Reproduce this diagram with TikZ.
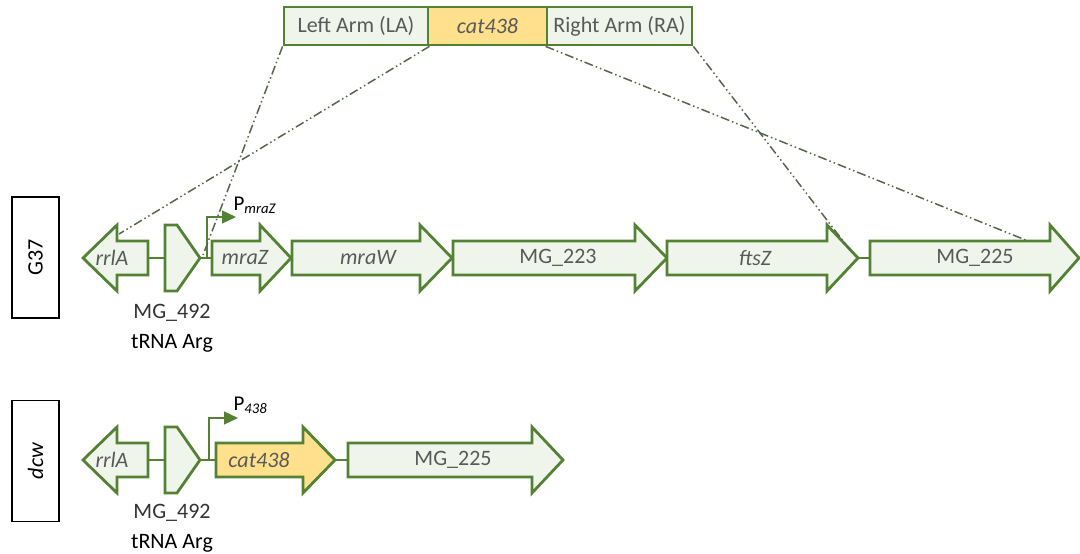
\documentclass[tikz,border=0pt]{standalone}
\usepackage{fontspec}
\setmainfont{Carlito}
\usetikzlibrary{arrows.meta}

\definecolor{genegreen}{HTML}{548235}
\definecolor{genefill}{HTML}{F0F5EC}
\definecolor{catfill}{HTML}{FFE08C}
\definecolor{gtext}{HTML}{595959}
\definecolor{armline}{HTML}{56664B}

\begin{document}
\begin{tikzpicture}[x=1pt,y=-1pt,
  gene/.style={draw=genegreen, line width=2.8pt, fill=genefill},
  catgene/.style={gene, fill=catfill},
  link/.style={draw=genegreen, line width=1.2pt},
  prom/.style={draw=genegreen, line width=1.3pt, -{Triangle[length=14pt,width=13pt]}},
  arm/.style={draw=armline, line width=1.5pt, dash pattern=on 9pt off 3pt on 1.5pt off 3pt on 1.5pt off 3pt},
  armbox/.style={draw=genegreen, line width=2.8pt, fill=genefill, minimum height=38pt, inner sep=0pt, text=gtext, font=\fontsize{22}{26}\selectfont},
  gname/.style={text=gtext, font=\fontsize{22}{26}\selectfont\itshape},
  glabel/.style={text=gtext, font=\fontsize{22}{26}\selectfont},
  strain/.style={draw=black, line width=1.5pt, rotate=90, minimum width=121pt, minimum height=47pt, inner sep=0pt, font=\fontsize{22}{26}\selectfont},
  under/.style={font=\fontsize{22}{26}\selectfont}
]
\useasboundingbox (0,0) rectangle (1080,554);

%%%%%CASSETTE%%%%%%%%%
\node[armbox, minimum width=144pt] (la) at (356,26) {Left Arm (LA)};
\node[armbox, fill=catfill, minimum width=119pt] (cas) at (487.5,26) {\itshape cat438};
\node[armbox, minimum width=145pt] (ra) at (619.5,26) {Right Arm (RA)};

%%%%%G37 LOCUS%%%%%%%%%
\node[strain] (g37) at (35.5,257.5) {G37};

% rrlA (reverse) and tRNA
\draw[gene] (148,241) -- (117,241) -- (117,225) -- (83,258) -- (117,291) -- (117,275) -- (148,275) -- cycle;
\node[gname] (rrlA1) at (112,258) {rrlA};
\draw[gene] (165,225) -- (177,225) -- (200,258) -- (177,291) -- (165,291) -- cycle;
\coordinate (trna1) at (200,258);
\draw[link] (148,258) -- (165,258);
\draw[link] (trna1) -- (212,258);
\node[under, text=black!80] (mg492a) at (172,313) {MG\_492};
\node[under, text=black] (trnaArg1) at (172,343) {tRNA Arg};

% promoter
\coordinate (p1) at (207,258);
\draw[prom] (p1) -- (207,217) -- (236,217);
\node[anchor=west, font=\fontsize{21}{24}\selectfont] (pmraZ) at (230,205) {P\textsubscript{\itshape mraZ}};

% operon genes
\draw[gene] (212,241) -- (260,241) -- (260,225) -- (291,258) -- (260,291) -- (260,275) -- (212,275) -- cycle;
\node[gname] (mraZ) at (245,258) {mraZ};
\draw[gene] (292,241) -- (420,241) -- (420,225) -- (452,258) -- (420,291) -- (420,275) -- (292,275) -- cycle;
\node[gname] (mraW) at (368,258) {mraW};
\draw[gene] (453,241) -- (635,241) -- (635,225) -- (667,258) -- (635,291) -- (635,275) -- (453,275) -- cycle;
\node[glabel] (mg223) at (558,258) {MG\_223};
\draw[gene] (667,241) -- (827,241) -- (827,225) -- (858,258) -- (827,291) -- (827,275) -- (667,275) -- cycle;
\node[gname] (ftsZ) at (755,258) {ftsZ};
\coordinate (ftsZtip) at (858,258);
\draw[link] (ftsZtip) -- (870,258);
\draw[gene] (870,241) -- (1050,241) -- (1050,225) -- (1079,258) -- (1050,291) -- (1050,275) -- (870,275) -- cycle;
\node[glabel] (mg225a) at (975,258) {MG\_225};

%%%%%ARMS%%%%%%%%%
\coordinate (armA) at (203,255);
\coordinate (armB) at (119,234);
\coordinate (armC) at (1028,241);
\coordinate (armD) at (850,250);
\draw[arm] (la.south west) -- (armA);
\draw[arm] (la.south east) -- (armB);
\draw[arm] (ra.south west) -- (armC);
\draw[arm] (ra.south east) -- (armD);

%%%%%DCW MUTANT%%%%%%%%%
\node[strain] (dcw) at (35.5,461) {\itshape dcw};

\draw[gene] (148,443) -- (117,443) -- (117,427) -- (83,460) -- (117,493) -- (117,477) -- (148,477) -- cycle;
\node[gname] (rrlA2) at (112,460) {rrlA};
\draw[gene] (165,427) -- (177,427) -- (200,460) -- (177,493) -- (165,493) -- cycle;
\draw[link] (148,460) -- (165,460);
\draw[link] (200,460) -- (216,460);
\node[under, text=black!80] (mg492b) at (172,513) {MG\_492};
\node[under, text=black] (trnaArg2) at (172,543) {tRNA Arg};

\coordinate (p2) at (209,460);
\draw[prom] (p2) -- (209,418) -- (238,418);
\node[anchor=west, font=\fontsize{21}{24}\selectfont] (p438) at (230,405) {P\textsubscript{\itshape 438}};

\draw[catgene] (216,443) -- (303,443) -- (303,427) -- (335,460) -- (303,493) -- (303,477) -- (216,477) -- cycle;
\node[gname] (cat) at (259,460) {cat438};
\draw[link] (335,460) -- (348,460);
\draw[gene] (348,443) -- (532,443) -- (532,427) -- (563,460) -- (532,493) -- (532,477) -- (348,477) -- cycle;
\node[glabel] (mg225b) at (453,460) {MG\_225};

\end{tikzpicture}
\end{document}
